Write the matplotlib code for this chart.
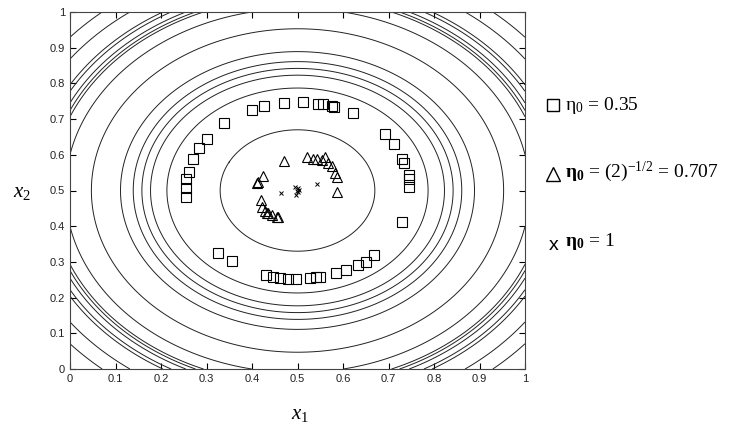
import matplotlib
matplotlib.use('Agg')
import matplotlib.pyplot as plt
import numpy as np

# contour radii around the centre (0.5, 0.5)
levels = [0.17, 0.287, 0.323, 0.342, 0.361, 0.389, 0.453, 0.510,
          0.541, 0.548, 0.557, 0.572, 0.581, 0.621, 0.659]

# eta0 = 0.35 (squares)
sq_x = [0.401, 0.426, 0.470, 0.511, 0.544, 0.555, 0.575, 0.580, 0.621,
        0.338, 0.300, 0.284, 0.270, 0.262, 0.256, 0.255, 0.256,
        0.692, 0.713, 0.730, 0.733, 0.744, 0.745, 0.746, 0.729,
        0.325, 0.355, 0.431, 0.447, 0.462, 0.480, 0.496, 0.527, 0.540,
        0.549, 0.585, 0.607, 0.634, 0.651, 0.669]
sq_y = [0.725, 0.736, 0.745, 0.748, 0.741, 0.741, 0.736, 0.734, 0.716,
        0.688, 0.644, 0.618, 0.588, 0.552, 0.531, 0.506, 0.483,
        0.657, 0.630, 0.587, 0.576, 0.543, 0.532, 0.509, 0.411,
        0.326, 0.302, 0.264, 0.257, 0.254, 0.252, 0.252, 0.256, 0.257,
        0.259, 0.269, 0.278, 0.291, 0.300, 0.319]

# eta0 = 2^-1/2 (triangles)
tri_x = [0.471, 0.520, 0.535, 0.542, 0.553, 0.560, 0.568, 0.575, 0.582,
         0.586, 0.586, 0.425, 0.414, 0.410, 0.420, 0.421, 0.429, 0.436,
         0.443, 0.454, 0.458, 0.432]
tri_y = [0.583, 0.593, 0.588, 0.587, 0.585, 0.593, 0.578, 0.569, 0.550,
         0.537, 0.495, 0.541, 0.525, 0.520, 0.473, 0.455, 0.443, 0.436,
         0.431, 0.427, 0.425, 0.438]

# eta0 = 1 (crosses)
cr_x = [0.463, 0.495, 0.498, 0.502, 0.496, 0.542, 0.500, 0.503]
cr_y = [0.492, 0.511, 0.499, 0.506, 0.487, 0.517, 0.495, 0.502]

xticks = [0, 0.1, 0.2, 0.3, 0.4, 0.5, 0.6, 0.7, 0.8, 0.9, 1]
tick_labels = ['0', '0.1', '0.2', '0.3', '0.4', '0.5', '0.6', '0.7', '0.8', '0.9', '1']

plt.rcParams['mathtext.fontset'] = 'custom'
plt.rcParams['mathtext.rm'] = 'Liberation Serif'
plt.rcParams['mathtext.it'] = 'Liberation Serif:italic'
plt.rcParams['mathtext.bf'] = 'Liberation Serif:bold'

fig = plt.figure(figsize=(7.39, 4.26), dpi=100)
ax = fig.add_axes([70 / 739, 1 - 369 / 426, 455 / 739, 357 / 426])

g = np.linspace(0, 1, 401)
X, Y = np.meshgrid(g, g)
R = np.sqrt((X - 0.5) ** 2 + (Y - 0.5) ** 2)
ax.contour(X, Y, R, levels=levels, colors='#222222', linewidths=0.7)

ax.plot(sq_x, sq_y, 's', mfc='none', mec='k', ms=6.5, mew=0.8)
ax.plot(tri_x, tri_y, '^', mfc='none', mec='k', ms=7, mew=0.8)
ax.plot(cr_x, cr_y, 'x', color='k', ms=3.5, mew=0.7)

ax.set_xlim(0, 1)
ax.set_ylim(0, 1)
ax.set_xticks(xticks)
ax.set_yticks(xticks)
ax.set_xticklabels(tick_labels)
ax.set_yticklabels(tick_labels)
ax.tick_params(direction='in', length=4, width=0.8, top=True, right=True,
               labelsize=8, colors='k')
for lab in ax.get_xticklabels() + ax.get_yticklabels():
    lab.set_fontfamily('Liberation Sans')
    lab.set_color('#222222')
for s in ax.spines.values():
    s.set_linewidth(0.8)
    s.set_color('#444444')

serif = 'Liberation Serif'
fig.text(300 / 739, 1 - 414 / 426, r'$x_1$', ha='center', va='center',
         fontsize=15)
fig.text(22 / 739, 1 - 192 / 426, r'$x_2$', ha='center', va='center',
         fontsize=15)

# legend-like annotations on the right
ax.plot([553 / 739], [1 - 105 / 426], 's', mfc='none', mec='k', ms=9, mew=1,
        transform=fig.transFigure, clip_on=False)
fig.text(565 / 739, 1 - 105 / 426, r'$\mathrm{\eta}_0$ = 0.35', fontsize=14,
         family=serif, va='center')
ax.plot([553 / 739], [1 - 174 / 426], '^', mfc='none', mec='k', ms=10, mew=1,
        transform=fig.transFigure, clip_on=False)
fig.text(565 / 739, 1 - 172 / 426, r'$\mathbf{\eta}_\mathbf{0}$ = (2)$^{-1/2}$ = 0.707',
         fontsize=14, family=serif, va='center')
fig.text(549 / 739, 1 - 245 / 426, 'x', fontsize=14, family='Liberation Sans',
         va='center')
fig.text(565 / 739, 1 - 242 / 426, r'$\mathbf{\eta}_\mathbf{0}$ = 1', fontsize=14,
         family=serif, va='center')

fig.savefig('out.png', dpi=100)
